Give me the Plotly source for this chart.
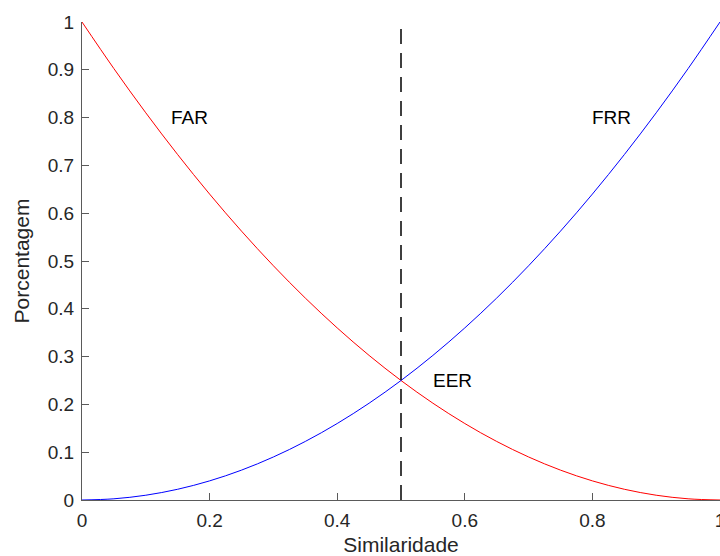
import plotly.graph_objects as go

# Similarity threshold samples
similaridade = [0.0, 0.05, 0.10, 0.15, 0.20, 0.25, 0.30, 0.35, 0.40, 0.45, 0.50,
                0.55, 0.60, 0.65, 0.70, 0.75, 0.80, 0.85, 0.90, 0.95, 1.0]
# False acceptance rate
far = [1.0, 0.9025, 0.81, 0.7225, 0.64, 0.5625, 0.49, 0.4225, 0.36, 0.3025, 0.25,
       0.2025, 0.16, 0.1225, 0.09, 0.0625, 0.04, 0.0225, 0.01, 0.0025, 0.0]
# False rejection rate
frr = [0.0, 0.0025, 0.01, 0.0225, 0.04, 0.0625, 0.09, 0.1225, 0.16, 0.2025, 0.25,
       0.3025, 0.36, 0.4225, 0.49, 0.5625, 0.64, 0.7225, 0.81, 0.9025, 1.0]

# Equal error rate threshold marker
eer_x = [0.5, 0.5]
eer_y = [0.0, 0.987]

# Curve labels
labels = ["FAR", "FRR", "EER"]
label_x = [0.14, 0.80, 0.55]
label_y = [0.80, 0.80, 0.25]

tick_vals_x = [0, 0.2, 0.4, 0.6, 0.8, 1]
tick_vals_y = [0, 0.1, 0.2, 0.3, 0.4, 0.5, 0.6, 0.7, 0.8, 0.9, 1]

fig = go.Figure()
fig.add_trace(go.Scatter(x=similaridade, y=far, mode="lines",
                         line=dict(color="#ff0000", width=1, shape="spline"),
                         showlegend=False))
fig.add_trace(go.Scatter(x=similaridade, y=frr, mode="lines",
                         line=dict(color="#0000ff", width=1, shape="spline"),
                         showlegend=False))
fig.add_trace(go.Scatter(x=eer_x, y=eer_y, mode="lines",
                         line=dict(color="#000000", width=1.5, dash="15px,9px"),
                         showlegend=False))

for t, lx, ly in zip(labels, label_x, label_y):
    fig.add_annotation(x=lx, y=ly, text=t, showarrow=False, xanchor="left",
                       yanchor="middle", xshift=-2,
                       font=dict(size=19, color="#000000"))

axis_common = dict(
    showgrid=False, zeroline=False, showline=True, linecolor="#5a5a5a",
    linewidth=1, ticks="inside", ticklen=7, tickcolor="#5a5a5a",
    tickfont=dict(size=19, color="#262626"), mirror=False,
    ticklabeloverflow="allow", ticklabelstandoff=3, automargin=False,
)

fig.update_layout(
    width=720, height=556,
    margin=dict(l=82, r=0, t=22, b=56),
    paper_bgcolor="white", plot_bgcolor="white",
    font=dict(family="Liberation Sans, Arial, sans-serif", color="#262626"),
    xaxis=dict(range=[0, 1], tickvals=tick_vals_x,
               ticktext=["0", "0.2", "0.4", "0.6", "0.8", "1"],
               title=dict(text="Similaridade", font=dict(size=21), standoff=9),
               **axis_common),
    yaxis=dict(range=[0, 1], tickvals=tick_vals_y,
               ticktext=["0", "0.1", "0.2", "0.3", "0.4", "0.5", "0.6", "0.7", "0.8", "0.9", "1"],
               title=dict(text="Porcentagem", font=dict(size=21), standoff=12),
               **axis_common),
)

fig.write_html("out.html")
